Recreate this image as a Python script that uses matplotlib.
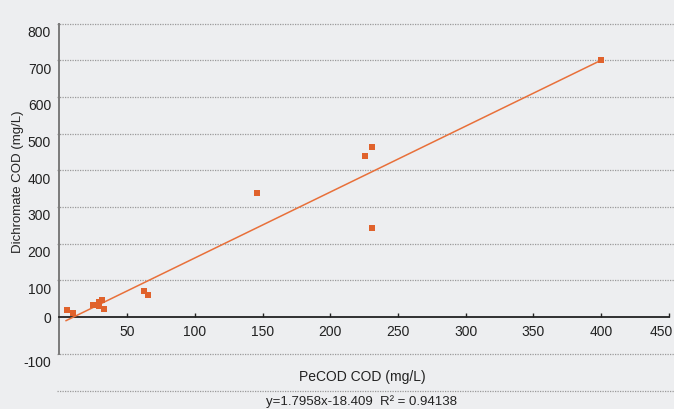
import matplotlib
matplotlib.use('Agg')
import matplotlib.pyplot as plt
import matplotlib.transforms as mtransforms
import numpy as np

# PeCOD vs dichromate COD samples
pecod = [5.5, 9.8, 24.7, 29.0, 29.2, 31.2, 32.6, 62.2, 65.1, 145.9, 225.6, 230.8, 230.8, 400.0]
dichromate = [19, 11, 33, 41, 31, 46, 23, 72, 61, 338, 440, 464, 243, 700]

# linear fit shown under the chart
slope = 1.7958
intercept = -18.409
r2 = 0.94138
fit_x = [4.9, 400.0]

x_ticks = [50, 100, 150, 200, 250, 300, 350, 400, 450]
y_ticks = [-200, -100, 0, 100, 200, 300, 400, 500, 600, 700, 800]
y_labels = ['', '-100', '0', '100', '200', '300', '400', '500', '600', '700', '800']

bg = '#edeef0'
orange = '#e0622c'
txt = '#222222'

plt.rcParams['font.family'] = ['Liberation Sans', 'DejaVu Sans']

fig = plt.figure(figsize=(6.74, 4.09), dpi=100, facecolor=bg)
ax = fig.add_axes([57 / 674, 1 - 390.5 / 409, 1 - 57 / 674, (390.5 - 23.5) / 409])
ax.set_facecolor(bg)

ax.set_xlim(-1.8, 453.8)
ax.set_ylim(-200, 800)

# gridlines
for v in y_ticks:
    if v == 0:
        continue
    ax.axhline(v, color='#9a9a9a', linestyle=(0, (1, 1)), linewidth=0.9, zorder=1, clip_on=False)

fx = np.array(fit_x)
ax.plot(fx, slope * fx + intercept, color='#e8703a', linewidth=1.1, zorder=3)
ax.scatter(pecod, dichromate, marker='s', s=18, color=orange, linewidths=0, zorder=4)

# spines
for s in ['top', 'right']:
    ax.spines[s].set_visible(False)
ax.spines['bottom'].set_position(('data', 0))
ax.spines['bottom'].set_bounds(0, 450)
ax.spines['bottom'].set_color(txt)
ax.spines['bottom'].set_linewidth(1.3)
ax.spines['left'].set_position(('data', 0))
ax.spines['left'].set_bounds(-100, 800)
ax.spines['left'].set_color('#7a7a7a')
ax.spines['left'].set_linewidth(1.4)

ax.set_xticks(x_ticks)
ax.set_xticklabels([str(t) for t in x_ticks])
ax.tick_params(axis='x', direction='in', length=3, width=1, color=txt,
               pad=6, labelsize=10, labelcolor=txt)
# last label squeezed in at the right edge
last = ax.get_xticklabels()[-1]
last.set_horizontalalignment('right')
last.set_transform(last.get_transform() + mtransforms.ScaledTranslation(4 / 100, 0, fig.dpi_scale_trans))

ax.set_yticks(y_ticks)
ax.set_yticklabels(y_labels)
ax.tick_params(axis='y', length=0, pad=6, labelsize=10, labelcolor=txt)
# y labels in the original sit a bit below their gridlines
shift = mtransforms.ScaledTranslation(0, -8 / 100, fig.dpi_scale_trans)
for lab, v in zip(ax.get_yticklabels(), y_ticks):
    if v != 0:
        lab.set_transform(lab.get_transform() + shift)

fig.text(18 / 674, 1 - 182 / 409, 'Dichromate COD (mg/L)', rotation=90,
         ha='center', va='center', fontsize=9.5, color=txt)
fig.text(362 / 674, 1 - 377 / 409, 'PeCOD COD (mg/L)',
         ha='center', va='center', fontsize=10, color=txt)
fig.text(362 / 674, 1 - 404.5 / 409,
         'y=%.4fx%.3f  R² = %.5f' % (slope, intercept, r2),
         ha='center', va='baseline', fontsize=9.5, color=txt)

fig.savefig('out.png', dpi=100, facecolor=bg)
